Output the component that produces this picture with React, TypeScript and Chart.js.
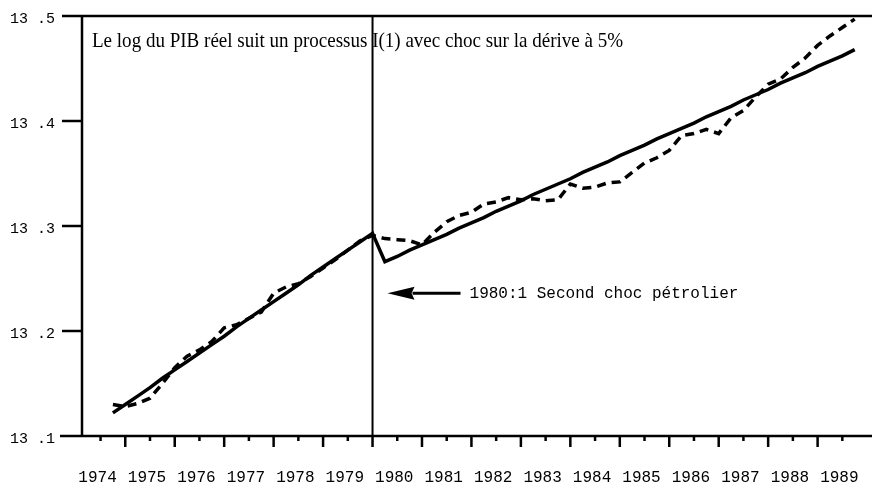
import React, { useEffect, useRef } from 'react';
import { Chart, registerables } from 'chart.js';

Chart.register(...registerables);

// Quarterly observations, 1974:4 – 1989:4
const quarters = [
  '1974:4',
  '1975:1', '1975:2', '1975:3', '1975:4',
  '1976:1', '1976:2', '1976:3', '1976:4',
  '1977:1', '1977:2', '1977:3', '1977:4',
  '1978:1', '1978:2', '1978:3', '1978:4',
  '1979:1', '1979:2', '1979:3', '1979:4',
  '1980:1', '1980:2', '1980:3', '1980:4',
  '1981:1', '1981:2', '1981:3', '1981:4',
  '1982:1', '1982:2', '1982:3', '1982:4',
  '1983:1', '1983:2', '1983:3', '1983:4',
  '1984:1', '1984:2', '1984:3', '1984:4',
  '1985:1', '1985:2', '1985:3', '1985:4',
  '1986:1', '1986:2', '1986:3', '1986:4',
  '1987:1', '1987:2', '1987:3', '1987:4',
  '1988:1', '1988:2', '1988:3', '1988:4',
  '1989:1', '1989:2', '1989:3', '1989:4',
];

// Solid line: trend with shock on the drift (1980:1)
const trendValues = [
  13.122,
  13.130, 13.138, 13.146, 13.155,
  13.163, 13.171, 13.179, 13.187,
  13.195, 13.204, 13.212, 13.220,
  13.228, 13.236, 13.244, 13.253,
  13.261, 13.269, 13.277, 13.285,
  13.293, 13.266, 13.271, 13.277,
  13.282, 13.287, 13.292, 13.298,
  13.303, 13.308, 13.314, 13.319,
  13.324, 13.330, 13.335, 13.340,
  13.345, 13.351, 13.356, 13.361,
  13.367, 13.372, 13.377, 13.383,
  13.388, 13.393, 13.398, 13.404,
  13.409, 13.414, 13.420, 13.425,
  13.430, 13.436, 13.441, 13.446,
  13.452, 13.457, 13.462, 13.468,
];

// Dashed line: log of real GDP
const gdpValues = [
  13.130,
  13.128, 13.131, 13.136, 13.150,
  13.165, 13.176, 13.182, 13.190,
  13.203, 13.206, 13.212, 13.218,
  13.236, 13.242, 13.245, 13.252,
  13.260, 13.268, 13.277, 13.286,
  13.291, 13.288, 13.287, 13.286,
  13.282, 13.294, 13.304, 13.310,
  13.313, 13.321, 13.323, 13.327,
  13.325, 13.326, 13.324, 13.325,
  13.340, 13.336, 13.337, 13.341,
  13.342, 13.351, 13.360, 13.365,
  13.372, 13.386, 13.388, 13.392,
  13.388, 13.403, 13.410, 13.423,
  13.435, 13.440, 13.451, 13.460,
  13.472, 13.481, 13.489, 13.497,
];

const yTickValues = [13.1, 13.2, 13.3, 13.4, 13.5];
const yTickLabels = ['13 .1', '13 .2', '13 .3', '13 .4', '13 .5'];
const yearLabels = [
  '1974', '1975', '1976', '1977', '1978', '1979', '1980', '1981',
  '1982', '1983', '1984', '1985', '1986', '1987', '1988', '1989',
];
const shockQuarter = '1980:1';
const annotationValue = 13.236;
const titleText = 'Le log du PIB réel suit un processus I(1) avec choc sur la dérive à 5%';
const annotationText = '1980:1 Second choc pétrolier';

const X_MIN = 1974.125;
const X_MAX = 1990.1;

function quarterToTime(q: string): number {
  const [yy, qq] = q.split(':').map(Number);
  return yy + (qq - 1) / 4;
}

const decorPlugin = {
  id: 'decor',
  afterDatasetsDraw(chart: any) {
    const { ctx, chartArea: ca, scales } = chart;
    const xs = scales.x;
    const ys = scales.y;
    ctx.save();
    ctx.strokeStyle = '#000';
    ctx.fillStyle = '#000';
    ctx.lineCap = 'butt';

    const line = (x1: number, y1: number, x2: number, y2: number, w: number) => {
      ctx.lineWidth = w;
      ctx.beginPath();
      ctx.moveTo(x1, y1);
      ctx.lineTo(x2, y2);
      ctx.stroke();
    };

    // y axis line
    line(ca.left, ca.top - 1, ca.left, ca.bottom + 1, 2.5);
    // y ticks (13.5 tick merges with the top frame line, 13.1 with the x axis)
    yTickValues.forEach((v) => {
      const py = ys.getPixelForValue(v);
      if (v === yTickValues[yTickValues.length - 1]) {
        line(ca.left - 20, py, ca.right, py, 2.5);
      } else if (v === yTickValues[0]) {
        line(ca.left - 22, py, ca.right, py, 2.5);
      } else {
        line(ca.left - 20, py, ca.left, py, 2.5);
      }
    });

    // x ticks: major at year boundaries, minor at mid-year
    yearLabels.forEach((yl) => {
      const yr = Number(yl);
      if (yr >= X_MIN) {
        const px = xs.getPixelForValue(yr);
        line(px, ca.bottom, px, ca.bottom + 11, 2.5);
      }
      const pm = xs.getPixelForValue(yr + 0.5);
      line(pm, ca.bottom, pm, ca.bottom + 5, 2.5);
    });

    // vertical line at the shock
    const sx = xs.getPixelForValue(quarterToTime(shockQuarter));
    line(sx, ca.top, sx, ca.bottom, 2);

    // title
    ctx.save();
    ctx.translate(ca.left + 10, ca.top + 31);
    ctx.scale(0.865, 1);
    ctx.font = '22px "Liberation Serif", "Times New Roman", serif';
    ctx.textBaseline = 'alphabetic';
    ctx.textAlign = 'left';
    ctx.fillText(titleText, 0, 0);
    ctx.restore();

    // arrow + annotation
    const ay = ys.getPixelForValue(annotationValue);
    const tip = sx + 15;
    const back = sx + 42;
    line(back - 2, ay, sx + 88, ay, 3);
    ctx.beginPath();
    ctx.moveTo(tip, ay);
    ctx.lineTo(back, ay - 6.5);
    ctx.lineTo(back - 3, ay);
    ctx.lineTo(back, ay + 6.5);
    ctx.closePath();
    ctx.fill();

    ctx.font = '16px "Liberation Mono", "Courier New", monospace';
    ctx.textBaseline = 'alphabetic';
    ctx.textAlign = 'left';
    ctx.fillText(annotationText, sx + 97, ay + 5);

    ctx.restore();
  },
};

export default function App() {
  const canvasRef = useRef<HTMLCanvasElement | null>(null);

  useEffect(() => {
    const canvas = canvasRef.current;
    if (!canvas) return;
    const times = quarters.map(quarterToTime);
    const chart = new Chart(canvas, {
      type: 'line',
      data: {
        datasets: [
          {
            label: 'Tendance',
            data: times.map((t, i) => ({ x: t, y: trendValues[i] })),
            borderColor: '#000',
            borderWidth: 3.5,
            pointRadius: 0,
            tension: 0,
            fill: false,
          },
          {
            label: 'log PIB',
            data: times.map((t, i) => ({ x: t, y: gdpValues[i] })),
            borderColor: '#000',
            borderWidth: 3.5,
            borderDash: [9, 6],
            pointRadius: 0,
            tension: 0,
            fill: false,
          },
        ],
      },
      options: {
        responsive: false,
        animation: false,
        layout: { padding: { top: 16, right: 0, bottom: 0, left: 0 } },
        plugins: {
          legend: { display: false },
          tooltip: { enabled: false },
          title: { display: false },
        },
        scales: {
          x: {
            type: 'linear',
            min: X_MIN,
            max: X_MAX,
            afterBuildTicks: (s: any) => {
              s.ticks = yearLabels.map((yl) => ({ value: Number(yl) + 0.5 }));
            },
            afterFit: (s: any) => {
              s.height = 53;
              s.paddingLeft = 0;
              s.paddingRight = 0;
              s.paddingTop = 0;
              s.paddingBottom = 0;
            },
            grid: { display: false, drawTicks: false },
            border: { display: false },
            ticks: {
              autoSkip: false,
              maxRotation: 0,
              minRotation: 0,
              padding: 32,
              labelOffset: -3,
              color: '#000',
              font: { family: '"Liberation Mono", "Courier New", monospace', size: 16 },
              callback: (_v: any, i: number) => yearLabels[i],
            },
          },
          y: {
            type: 'linear',
            min: 13.1,
            max: 13.5,
            afterBuildTicks: (s: any) => {
              s.ticks = yTickValues.map((v) => ({ value: v }));
            },
            afterFit: (s: any) => {
              s.width = 82;
              s.paddingLeft = 0;
              s.paddingRight = 0;
              s.paddingTop = 0;
              s.paddingBottom = 0;
            },
            grid: { display: false, drawTicks: false },
            border: { display: false },
            ticks: {
              padding: 27,
              labelOffset: 3,
              color: '#000',
              font: { family: '"Liberation Mono", "Courier New", monospace', size: 15 },
              callback: (_v: any, i: number) => yTickLabels[i],
            },
          },
        },
      },
      plugins: [decorPlugin],
    });
    return () => chart.destroy();
  }, []);

  return (
    <div style={{ position: 'absolute', left: 0, top: 0, width: 872, height: 489, background: '#fff' }}>
      <canvas ref={canvasRef} width={872} height={489} style={{ display: 'block', width: 872, height: 489 }} />
    </div>
  );
}
